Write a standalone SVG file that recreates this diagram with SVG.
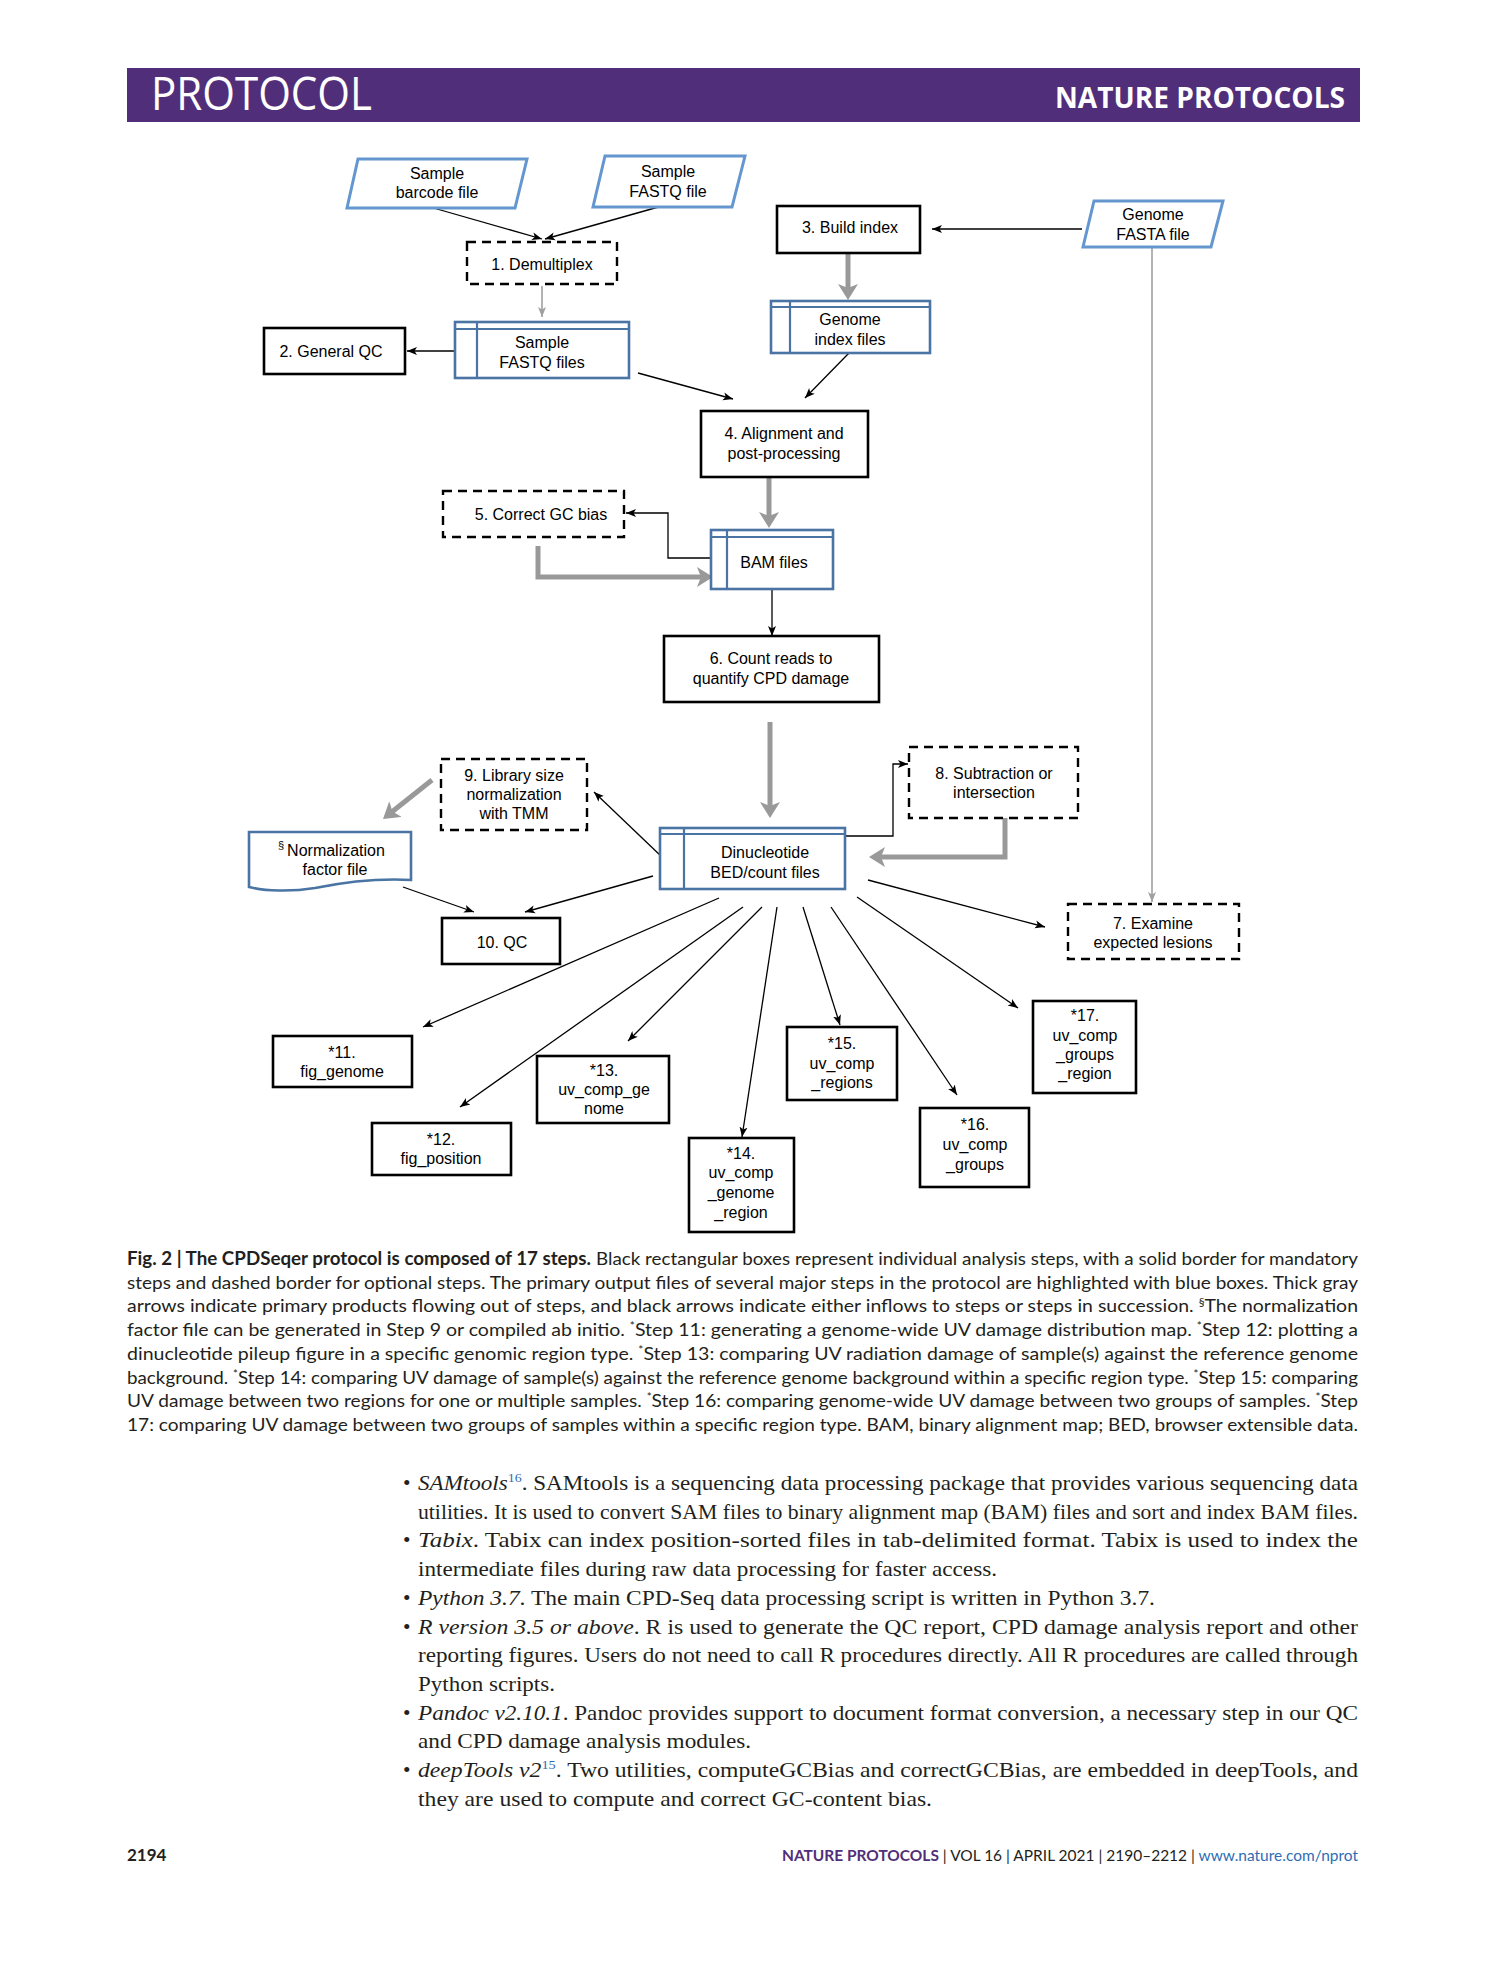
<svg xmlns="http://www.w3.org/2000/svg" width="1489" height="1978" viewBox="0 0 1489 1978">
<style>
.bg{fill:#ffffff}
.n{font-family:"Liberation Sans",Arial,sans-serif;font-size:16px;fill:#000;text-anchor:middle}
.box{fill:#fff;stroke:#000;stroke-width:2.6}
.dash{fill:#fff;stroke:#000;stroke-width:2.4;stroke-dasharray:9 6}
.para{fill:#fff;stroke:#6497cf;stroke-width:3}
.tbl{fill:#fff;stroke:#4a74a3;stroke-width:2.6}
.tl{stroke:#4a74a3;stroke-width:2.2;fill:none}
.blk{stroke:#000;stroke-width:1.3;fill:none;marker-end:url(#ab)}
.gthin{stroke:#a0a0a0;stroke-width:1.6;fill:none;marker-end:url(#ag)}
.gthick{stroke:#999;stroke-width:5;fill:none;marker-end:url(#agt)}
.cap{font-family:Lato,"Open Sans","Liberation Sans",sans-serif;font-size:18px;fill:#231f20}
.capb{font-weight:bold}
.sup{font-size:11px}
.body{font-family:"Liberation Serif","Times New Roman",serif;font-size:21.5px;fill:#231f20}
.it{font-style:italic}
.ref{fill:#2e6db4;font-size:13px}
</style>
<defs>
<marker id="ab" viewBox="0 0 10 10" refX="10" refY="5" markerWidth="10" markerHeight="10" markerUnits="userSpaceOnUse" orient="auto"><path d="M0,1 L10,5 L0,9 L2.5,5 Z" fill="#000"/></marker>
<marker id="ag" viewBox="0 0 10 10" refX="10" refY="5" markerWidth="10" markerHeight="10" markerUnits="userSpaceOnUse" orient="auto"><path d="M0,1 L10,5 L0,9 L2.5,5 Z" fill="#a0a0a0"/></marker>
<marker id="agt" viewBox="0 0 16 20" refX="10" refY="10" markerWidth="16" markerHeight="20" markerUnits="userSpaceOnUse" orient="auto"><path d="M0,0 L16,10 L0,20 L4,10 Z" fill="#999"/></marker>
</defs>
<rect class="bg" x="0" y="0" width="1489" height="1978"/>

<g id="header">
<rect x="127" y="68" width="1233" height="54" fill="#512e79"/>
<text x="151" y="110" font-family="'Open Sans','Noto Sans',sans-serif" font-size="45" fill="#fff" textLength="221" lengthAdjust="spacingAndGlyphs">PROTOCOL</text>
<text x="1055" y="108" font-family="'Open Sans','Noto Sans',sans-serif" font-weight="bold" font-size="28" fill="#fff" textLength="290" lengthAdjust="spacingAndGlyphs">NATURE PROTOCOLS</text>
</g>

<g id="connectors">
<line class="blk" x1="430" y1="207" x2="542" y2="239"/>
<line class="blk" x1="662" y1="206" x2="545" y2="239"/>
<line class="gthin" x1="542" y1="286" x2="542" y2="317"/>
<line class="blk" x1="455" y1="351" x2="407" y2="351"/>
<line class="blk" x1="638" y1="373" x2="733" y2="399"/>
<line class="blk" x1="1082" y1="229" x2="932" y2="229"/>
<line class="gthick" x1="848" y1="253" x2="848" y2="294"/>
<line class="blk" x1="849" y1="353" x2="805" y2="398"/>
<line class="gthick" x1="769" y1="478" x2="769" y2="522"/>
<polyline class="blk" points="711,558 668,558 668,513 626,513"/>
<polyline class="gthick" points="538,546 538,577 707,577"/>
<line class="blk" x1="772" y1="589" x2="772" y2="636"/>
<line class="gthick" x1="770" y1="722" x2="770" y2="812"/>
<line class="blk" x1="662" y1="857" x2="594" y2="792"/>
<line class="gthick" x1="432" y1="780" x2="387.7" y2="815.3"/>
<line class="blk" x1="403" y1="887" x2="474" y2="912"/>
<line class="blk" x1="653" y1="876" x2="525" y2="912"/>
<polyline class="blk" points="846,836 893,836 893,764 908,764"/>
<polyline class="gthick" points="1005,818 1005,857 875,857"/>
<line class="blk" x1="868" y1="880" x2="1045" y2="927"/>
<line class="gthin" x1="1152" y1="247" x2="1152" y2="902"/>
<line class="blk" x1="719" y1="898" x2="423" y2="1027"/>
<line class="blk" x1="743" y1="907" x2="460" y2="1107"/>
<line class="blk" x1="762" y1="907" x2="628" y2="1041"/>
<line class="blk" x1="777" y1="907" x2="742" y2="1137"/>
<line class="blk" x1="803" y1="907" x2="840" y2="1025"/>
<line class="blk" x1="831" y1="907" x2="957" y2="1095"/>
<line class="blk" x1="857" y1="897" x2="1018" y2="1008"/>
</g>

<g id="sample-barcode-file">
<polygon class="para" points="358,159 527,159 515,208 347,208"/>
<text class="n" x="437" y="179">Sample</text>
<text class="n" x="437" y="198">barcode file</text>
</g>
<g id="sample-fastq-file">
<polygon class="para" points="605,156 745,156 732,207 593,207"/>
<text class="n" x="668" y="177">Sample</text>
<text class="n" x="668" y="197">FASTQ file</text>
</g>
<g id="step1-demultiplex">
<rect class="dash" x="467" y="242" width="150" height="42"/>
<text class="n" x="542" y="270">1. Demultiplex</text>
</g>
<g id="sample-fastq-files">
<rect class="tbl" x="455" y="322" width="174" height="56"/>
<line class="tl" x1="455" y1="329" x2="629" y2="329"/>
<line class="tl" x1="477" y1="322" x2="477" y2="378"/>
<text class="n" x="542" y="348">Sample</text>
<text class="n" x="542" y="368">FASTQ files</text>
</g>
<g id="step2-general-qc">
<rect class="box" x="264" y="328" width="141" height="46"/>
<text class="n" x="331" y="357">2. General QC</text>
</g>
<g id="step3-build-index">
<rect class="box" x="777" y="206" width="143" height="47"/>
<text class="n" x="850" y="233">3. Build index</text>
</g>
<g id="genome-fasta-file">
<polygon class="para" points="1094,201 1223,201 1211,247 1083,247"/>
<text class="n" x="1153" y="220">Genome</text>
<text class="n" x="1153" y="240">FASTA file</text>
</g>
<g id="genome-index-files">
<rect class="tbl" x="771" y="301" width="159" height="52"/>
<line class="tl" x1="771" y1="307" x2="930" y2="307"/>
<line class="tl" x1="790" y1="301" x2="790" y2="353"/>
<text class="n" x="850" y="325">Genome</text>
<text class="n" x="850" y="345">index files</text>
</g>
<g id="step4-alignment">
<rect class="box" x="701" y="411" width="167" height="66"/>
<text class="n" x="784" y="439">4. Alignment and</text>
<text class="n" x="784" y="459">post-processing</text>
</g>
<g id="step5-correct-gc-bias">
<rect class="dash" x="443" y="491" width="181" height="46"/>
<text class="n" x="541" y="520">5. Correct GC bias</text>
</g>
<g id="bam-files">
<rect class="tbl" x="711" y="530" width="122" height="59"/>
<line class="tl" x1="711" y1="537" x2="833" y2="537"/>
<line class="tl" x1="727" y1="530" x2="727" y2="589"/>
<text class="n" x="774" y="568">BAM files</text>
</g>
<g id="step6-count-reads">
<rect class="box" x="664" y="636" width="215" height="66"/>
<text class="n" x="771" y="664">6. Count reads to</text>
<text class="n" x="771" y="684">quantify CPD damage</text>
</g>
<g id="dinucleotide-files">
<rect class="tbl" x="660" y="828" width="185" height="61"/>
<line class="tl" x1="660" y1="834" x2="845" y2="834"/>
<line class="tl" x1="684" y1="828" x2="684" y2="889"/>
<text class="n" x="765" y="858">Dinucleotide</text>
<text class="n" x="765" y="878">BED/count files</text>
</g>
<g id="step9-library-size">
<rect class="dash" x="441" y="759" width="146" height="71"/>
<text class="n" x="514" y="781">9. Library size</text>
<text class="n" x="514" y="800">normalization</text>
<text class="n" x="514" y="819">with TMM</text>
</g>
<g id="normalization-factor-file">
<path d="M249,832 H411 V880 C375,878 345,882 315,888 C290,892 265,891 249,887 Z" fill="#fff" stroke="#4a74a3" stroke-width="2.6"/>
<text x="278" y="849" font-family="'Liberation Sans',Arial,sans-serif" font-size="11">§</text>
<text class="n" x="336" y="856">Normalization</text>
<text class="n" x="335" y="875">factor file</text>
</g>
<g id="step10-qc">
<rect class="box" x="442" y="918" width="118" height="46"/>
<text class="n" x="502" y="948">10. QC</text>
</g>
<g id="step8-subtraction">
<rect class="dash" x="909" y="747" width="169" height="71"/>
<text class="n" x="994" y="779">8. Subtraction or</text>
<text class="n" x="994" y="798">intersection</text>
</g>
<g id="step7-examine">
<rect class="dash" x="1068" y="904" width="171" height="55"/>
<text class="n" x="1153" y="929">7. Examine</text>
<text class="n" x="1153" y="948">expected lesions</text>
</g>
<g id="step11">
<rect class="box" x="273" y="1036" width="139" height="51"/>
<text class="n" x="342" y="1058">*11.</text>
<text class="n" x="342" y="1077">fig_genome</text>
</g>
<g id="step12">
<rect class="box" x="372" y="1123" width="139" height="52"/>
<text class="n" x="441" y="1145">*12.</text>
<text class="n" x="441" y="1164">fig_position</text>
</g>
<g id="step13">
<rect class="box" x="537" y="1056" width="132" height="67"/>
<text class="n" x="604" y="1076">*13.</text>
<text class="n" x="604" y="1095">uv_comp_ge</text>
<text class="n" x="604" y="1114">nome</text>
</g>
<g id="step14">
<rect class="box" x="689" y="1138" width="105" height="94"/>
<text class="n" x="741" y="1159">*14.</text>
<text class="n" x="741" y="1178">uv_comp</text>
<text class="n" x="741" y="1198">_genome</text>
<text class="n" x="741" y="1218">_region</text>
</g>
<g id="step15">
<rect class="box" x="787" y="1027" width="110" height="73"/>
<text class="n" x="842" y="1049">*15.</text>
<text class="n" x="842" y="1069">uv_comp</text>
<text class="n" x="842" y="1088">_regions</text>
</g>
<g id="step16">
<rect class="box" x="920" y="1108" width="109" height="79"/>
<text class="n" x="975" y="1130">*16.</text>
<text class="n" x="975" y="1150">uv_comp</text>
<text class="n" x="975" y="1170">_groups</text>
</g>
<g id="step17">
<rect class="box" x="1033" y="1001" width="103" height="92"/>
<text class="n" x="1085" y="1021">*17.</text>
<text class="n" x="1085" y="1041">uv_comp</text>
<text class="n" x="1085" y="1060">_groups</text>
<text class="n" x="1085" y="1079">_region</text>
</g>

<g id="caption">
<text class="cap capb" x="127" y="1265" textLength="464" lengthAdjust="spacingAndGlyphs">Fig. 2 | The CPDSeqer protocol is composed of 17 steps.</text>
<text class="cap" x="596" y="1265" textLength="762" lengthAdjust="spacingAndGlyphs">Black rectangular boxes represent individual analysis steps, with a solid border for mandatory</text>
<text class="cap" x="127" y="1288.7" textLength="1231" lengthAdjust="spacingAndGlyphs">steps and dashed border for optional steps. The primary output files of several major steps in the protocol are highlighted with blue boxes. Thick gray</text>
<text class="cap" x="127" y="1312.4" textLength="1231" lengthAdjust="spacingAndGlyphs">arrows indicate primary products flowing out of steps, and black arrows indicate either inflows to steps or steps in succession. <tspan class="sup" dy="-6">§</tspan><tspan dy="6">The normalization</tspan></text>
<text class="cap" x="127" y="1336.1" textLength="1231" lengthAdjust="spacingAndGlyphs">factor file can be generated in Step 9 or compiled ab initio. <tspan class="sup" dy="-6">*</tspan><tspan dy="6">Step 11: generating a genome-wide UV damage distribution map. </tspan><tspan class="sup" dy="-6">*</tspan><tspan dy="6">Step 12: plotting a</tspan></text>
<text class="cap" x="127" y="1359.8" textLength="1231" lengthAdjust="spacingAndGlyphs">dinucleotide pileup figure in a specific genomic region type. <tspan class="sup" dy="-6">*</tspan><tspan dy="6">Step 13: comparing UV radiation damage of sample(s) against the reference genome</tspan></text>
<text class="cap" x="127" y="1383.5" textLength="1231" lengthAdjust="spacingAndGlyphs">background. <tspan class="sup" dy="-6">*</tspan><tspan dy="6">Step 14: comparing UV damage of sample(s) against the reference genome background within a specific region type. </tspan><tspan class="sup" dy="-6">*</tspan><tspan dy="6">Step 15: comparing</tspan></text>
<text class="cap" x="127" y="1407.2" textLength="1231" lengthAdjust="spacingAndGlyphs">UV damage between two regions for one or multiple samples. <tspan class="sup" dy="-6">*</tspan><tspan dy="6">Step 16: comparing genome-wide UV damage between two groups of samples. </tspan><tspan class="sup" dy="-6">*</tspan><tspan dy="6">Step</tspan></text>
<text class="cap" x="127" y="1430.9" textLength="1231" lengthAdjust="spacingAndGlyphs">17: comparing UV damage between two groups of samples within a specific region type. BAM, binary alignment map; BED, browser extensible data.</text>
</g>

<g id="body-text">
<text class="body" x="403" y="1490">•</text>
<text class="body" x="418" y="1490" textLength="940" lengthAdjust="spacingAndGlyphs"><tspan class="it">SAMtools</tspan><tspan class="ref" dy="-8">16</tspan><tspan dy="8">. SAMtools is a sequencing data processing package that provides various sequencing data</tspan></text>
<text class="body" x="418" y="1518.7" textLength="940" lengthAdjust="spacingAndGlyphs">utilities. It is used to convert SAM files to binary alignment map (BAM) files and sort and index BAM files.</text>
<text class="body" x="403" y="1547.4">•</text>
<text class="body" x="418" y="1547.4" textLength="940" lengthAdjust="spacingAndGlyphs"><tspan class="it">Tabix</tspan>. Tabix can index position-sorted files in tab-delimited format. Tabix is used to index the</text>
<text class="body" x="418" y="1576.1" textLength="579" lengthAdjust="spacingAndGlyphs">intermediate files during raw data processing for faster access.</text>
<text class="body" x="403" y="1604.8">•</text>
<text class="body" x="418" y="1604.8" textLength="737" lengthAdjust="spacingAndGlyphs"><tspan class="it">Python 3.7</tspan>. The main CPD-Seq data processing script is written in Python 3.7.</text>
<text class="body" x="403" y="1633.5">•</text>
<text class="body" x="418" y="1633.5" textLength="940" lengthAdjust="spacingAndGlyphs"><tspan class="it">R version 3.5 or above</tspan>. R is used to generate the QC report, CPD damage analysis report and other</text>
<text class="body" x="418" y="1662.2" textLength="940" lengthAdjust="spacingAndGlyphs">reporting figures. Users do not need to call R procedures directly. All R procedures are called through</text>
<text class="body" x="418" y="1690.9" textLength="137" lengthAdjust="spacingAndGlyphs">Python scripts.</text>
<text class="body" x="403" y="1719.6">•</text>
<text class="body" x="418" y="1719.6" textLength="940" lengthAdjust="spacingAndGlyphs"><tspan class="it">Pandoc v2.10.1</tspan>. Pandoc provides support to document format conversion, a necessary step in our QC</text>
<text class="body" x="418" y="1748.3" textLength="333" lengthAdjust="spacingAndGlyphs">and CPD damage analysis modules.</text>
<text class="body" x="403" y="1777">•</text>
<text class="body" x="418" y="1777" textLength="940" lengthAdjust="spacingAndGlyphs"><tspan class="it">deepTools v2</tspan><tspan class="ref" dy="-8">15</tspan><tspan dy="8">. Two utilities, computeGCBias and correctGCBias, are embedded in deepTools, and</tspan></text>
<text class="body" x="418" y="1805.7" textLength="514" lengthAdjust="spacingAndGlyphs">they are used to compute and correct GC-content bias.</text>
</g>

<g id="footer">
<text x="127" y="1861" font-family="Lato,'Open Sans',sans-serif" font-weight="bold" font-size="17" fill="#231f20">2194</text>
<text x="782" y="1861" font-family="Lato,'Open Sans',sans-serif" font-size="16" fill="#231f20" textLength="576" lengthAdjust="spacingAndGlyphs"><tspan font-weight="bold" fill="#512e79">NATURE PROTOCOLS</tspan> | VOL 16 | APRIL 2021 | 2190–2212 | <tspan fill="#2e6db4">www.nature.com/nprot</tspan></text>
</g>
</svg>
